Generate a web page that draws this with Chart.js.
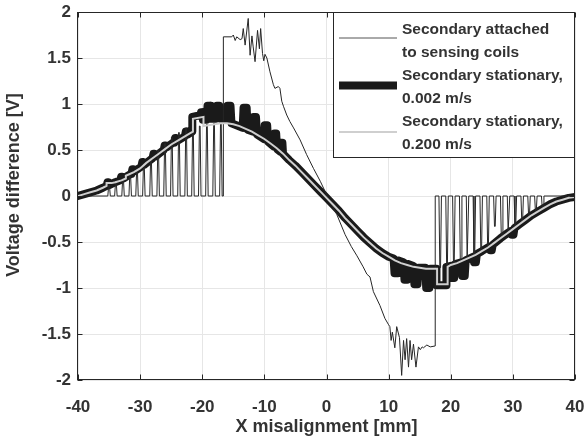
<!DOCTYPE html>
<html>
<head>
<meta charset="utf-8">
<script src="https://cdn.jsdelivr.net/npm/chart.js@4.4.1/dist/chart.umd.min.js"></script>
<style>
html,body{margin:0;padding:0;background:#fff;}
#wrap{width:587px;height:443px;}
</style>
</head>
<body>
<div id="wrap"><canvas id="chart" width="587" height="443"></canvas></div>
<script>
const FONT = "'Liberation Sans', Arial, sans-serif";
const TEXT = "#333333";

// axis ticks
const xTicks = [-40, -30, -20, -10, 0, 10, 20, 30, 40];
const xTickLabels = ["-40", "-30", "-20", "-10", "0", "10", "20", "30", "40"];
const yTicks = [-2, -1.5, -1, -0.5, 0, 0.5, 1, 1.5, 2];
const yTickLabels = ["-2", "-1.5", "-1", "-0.5", "0", "0.5", "1", "1.5", "2"];

const xTitle = "X misalignment [mm]";
const yTitle = "Voltage difference [V]";
const seriesNames = [
    ["Secondary attached", "to sensing coils"],
    ["Secondary stationary,", "0.002 m/s"],
    ["Secondary stationary,", "0.200 m/s"]
];

// thin line: pulses between 0 and the curve (left and right), noisy part in the middle
const leftPulseX = [-35.0, -33.9, -32.75, -31.6, -30.5, -29.4, -28.25, -27.1, -26.0, -24.9, -23.75, -22.6, -21.5, -20.4, -19.25, -18.1, -17.0];
const leftPulseV = [0.12, 0.15, 0.19, 0.24, 0.29, 0.35, 0.41, 0.50, 0.57, 0.64, 0.69, 0.74, 0.72, 0.76, 0.78, 0.79, 0.79];
const rightPulseX = [18.3, 19.4, 20.5, 21.6, 22.7, 23.8, 24.9, 26.0, 27.1, 28.2, 29.3, 30.4, 31.5, 32.6, 33.7, 34.8];
const rightPulseV = [-0.78, -0.77, -0.74, -0.72, -0.69, -0.65, -0.60, -0.56, -0.33, -0.45, -0.39, -0.34, -0.29, -0.23, -0.18, -0.14];

const thinMid = [
    [-16.6, 0], [-16.6, 1.73], [-15.25, 1.73], [-15.0, 1.75], [-14.7, 1.69], [-14.45, 1.73], [-13.9, 1.70],
    [-13.6, 1.71], [-13.4, 1.82], [-13.1, 1.64], [-12.6, 1.93], [-12.3, 1.53], [-12.0, 1.74], [-11.8, 1.62],
    [-11.5, 1.46], [-11.1, 1.80], [-10.8, 1.60], [-10.6, 1.82], [-10.3, 1.55], [-10.1, 1.47], [-9.9, 1.54],
    [-9.6, 1.50], [-9.1, 1.35], [-8.55, 1.21], [-8.3, 1.17], [-7.75, 1.19], [-7.5, 1.17], [-7.2, 1.03],
    [-6.9, 0.97], [-6.4, 0.88], [-5.9, 0.81], [-5.3, 0.74], [-4.25, 0.61], [-3.2, 0.45], [-2.1, 0.30],
    [-1.0, 0.16], [0.05, 0.01], [1.65, -0.20], [3.0, -0.42], [4.0, -0.55], [4.9, -0.65], [5.9, -0.77],
    [6.5, -0.85], [7.0, -0.88], [7.55, -1.04], [8.6, -1.19], [9.4, -1.33], [10.0, -1.40], [10.2, -1.42],
    [10.4, -1.57], [10.6, -1.48], [11.0, -1.65], [11.3, -1.42], [11.75, -1.54], [12.1, -1.95], [12.4, -1.57],
    [12.65, -1.78], [12.9, -1.55], [13.2, -1.86], [13.45, -1.57], [13.7, -1.78], [14.0, -1.61], [14.4, -1.86],
    [14.8, -1.64], [15.1, -1.67], [15.4, -1.64], [15.6, -1.65], [16.15, -1.62], [16.7, -1.64], [17.5, -1.63],
    [17.5, 0]
];

// thick line, 0.002 m/s (narrow bumps become round blobs with the 8px pen)
const thickPts = [
    [-40, 0.00], [-39, 0.02], [-38, 0.04], [-37, 0.06], [-36, 0.09],
    [-35.4, 0.11], [-35.25, 0.15], [-35.05, 0.15], [-34.9, 0.12], [-34, 0.15],
    [-33.2, 0.17], [-33.05, 0.21], [-32.85, 0.21], [-32.7, 0.19], [-31.5, 0.24],
    [-31.4, 0.24], [-31.25, 0.29], [-31.05, 0.29], [-30.9, 0.27], [-30, 0.31],
    [-29.8, 0.32], [-29.65, 0.37], [-29.45, 0.37], [-29.3, 0.34], [-28.2, 0.40],
    [-28.0, 0.41], [-27.85, 0.46], [-27.65, 0.46], [-27.5, 0.43], [-26.4, 0.49],
    [-26.2, 0.50], [-26.05, 0.55], [-25.85, 0.55], [-25.7, 0.53], [-24.7, 0.58],
    [-24.5, 0.58], [-24.35, 0.63], [-24.15, 0.63], [-24.0, 0.60], [-23.0, 0.64],
    [-22.8, 0.65], [-22.65, 0.70], [-22.45, 0.70], [-22.3, 0.67],
    [-21.6, 0.70], [-21.6, 0.86], [-20.3, 0.88], [-20.2, 0.91], [-20.0, 0.91], [-19.9, 0.83],
    [-19.3, 0.83], [-19.15, 0.98], [-18.75, 0.98], [-18.6, 0.84],
    [-17.8, 0.84], [-17.65, 0.98], [-17.25, 0.98], [-17.1, 0.84],
    [-16.1, 0.83], [-15.95, 0.98], [-15.45, 0.98], [-15.3, 0.79], [-14.2, 0.76],
    [-13.5, 0.74], [-13.35, 0.96], [-12.85, 0.96], [-12.7, 0.72],
    [-11.9, 0.70], [-11.75, 0.86], [-11.35, 0.86], [-11.2, 0.67],
    [-10.1, 0.62], [-9.95, 0.77], [-9.55, 0.77], [-9.4, 0.59],
    [-8.55, 0.54], [-8.4, 0.68], [-8.1, 0.68], [-7.95, 0.51],
    [-7.4, 0.48], [-7.3, 0.58], [-7.1, 0.58], [-7.0, 0.46],
    [-6, 0.39], [-5, 0.33], [-4, 0.26], [-3, 0.19], [-2, 0.12], [-1, 0.05], [0, -0.02],
    [1, -0.09], [2, -0.16], [3, -0.24], [4, -0.31], [5, -0.38], [6, -0.45], [7, -0.51], [8, -0.57], [9, -0.62], [10, -0.66],
    [10.8, -0.68], [10.95, -0.84], [11.35, -0.84], [11.5, -0.70],
    [12.4, -0.72], [12.55, -0.91], [13.0, -0.91], [13.15, -0.74],
    [14.0, -0.76], [14.15, -0.96], [14.65, -0.96], [14.8, -0.78],
    [15.9, -0.78], [16.05, -1.00], [16.55, -1.00], [16.7, -0.79],
    [17.7, -0.79], [17.7, -0.97], [19.3, -0.97], [19.3, -0.77],
    [20.0, -0.76], [20.15, -0.89], [20.55, -0.89], [20.7, -0.74],
    [21.7, -0.72], [21.85, -0.87], [22.25, -0.87], [22.4, -0.70],
    [23.6, -0.66], [23.75, -0.72], [24.05, -0.72], [24.2, -0.63], [25, -0.60],
    [26.2, -0.55], [26.35, -0.59], [26.6, -0.59], [26.75, -0.53], [28, -0.46], [29, -0.41],
    [29.7, -0.38], [29.85, -0.42], [30.1, -0.42], [30.25, -0.35], [31, -0.31], [32, -0.26], [33, -0.21],
    [34, -0.17], [35, -0.13], [36, -0.09], [37, -0.06], [38, -0.04], [39, -0.02], [40, -0.01]
];

// light grey line, 0.200 m/s
const grayPts = [
    [-40, 0.00], [-39, 0.02], [-38, 0.04], [-37, 0.06], [-36, 0.09],
    [-35.4, 0.11], [-35.4, 0.14], [-34.6, 0.14], [-34, 0.15], [-33, 0.17],
    [-32.3, 0.19], [-32.3, 0.22], [-31, 0.26], [-30, 0.30], [-29, 0.36], [-28, 0.41], [-27, 0.46],
    [-26, 0.51], [-25, 0.56], [-24, 0.60], [-23, 0.64], [-22, 0.68],
    [-21.5, 0.70], [-21.5, 0.84], [-19.8, 0.86], [-19.8, 0.76], [-19, 0.77], [-18, 0.78], [-17, 0.79],
    [-16, 0.79], [-15, 0.78], [-14, 0.76], [-13, 0.73], [-12, 0.70], [-11, 0.66], [-10, 0.62], [-9, 0.57],
    [-8, 0.52], [-7, 0.46], [-6, 0.39], [-5, 0.33], [-4, 0.26], [-3, 0.19], [-2, 0.12], [-1, 0.05], [0, -0.02],
    [1, -0.09], [2, -0.16], [3, -0.24], [4, -0.31], [5, -0.38], [6, -0.45], [7, -0.51], [8, -0.57], [9, -0.62],
    [10, -0.66], [11, -0.70], [12, -0.73], [13, -0.75], [14, -0.77], [15, -0.78], [16, -0.79], [17, -0.79],
    [17.8, -0.79], [17.8, -0.96], [19.5, -0.96], [19.5, -0.77], [20, -0.75], [21, -0.73], [22, -0.70],
    [23, -0.67], [24, -0.64], [25, -0.60], [26, -0.56], [27, -0.51], [28, -0.46], [29, -0.41], [30, -0.36],
    [31, -0.31], [32, -0.26], [33, -0.21], [34, -0.17], [35, -0.13], [36, -0.09], [37, -0.06], [38, -0.04],
    [39, -0.02], [40, -0.01]
];

function pulses(xs, vs){
    let out = [];
    xs.forEach((x, i) => {
        out.push([x - 0.2, 0], [x - 0.06, vs[i]], [x + 0.06, vs[i]], [x + 0.2, 0]);
    });
    return out;
}

const thinPts = [[-40, 0]]
    .concat(pulses(leftPulseX, leftPulseV))
    .concat(thinMid)
    .concat(pulses(rightPulseX, rightPulseV))
    .concat([[40, 0]]);

const toXY = pts => pts.map(p => ({x: p[0], y: p[1]}));

// box with inward ticks, drawn over the data; y title drawn here too
const boxPlugin = {
    id: "box",
    afterDatasetsDraw(chart){
        const {ctx, chartArea: a, scales} = chart;
        ctx.save();
        ctx.strokeStyle = "#262626";
        ctx.lineWidth = 1;
        const l = Math.round(a.left) - 0.5, r = Math.round(a.right) - 0.5;
        const t = Math.round(a.top) + 0.5, b = Math.round(a.bottom) - 0.5;
        ctx.strokeRect(l, t, r - l, b - t);
        ctx.beginPath();
        xTicks.forEach(v => {
            const px = Math.round(scales.x.getPixelForValue(v)) + 0.5;
            ctx.moveTo(px, b); ctx.lineTo(px, b - 5);
            ctx.moveTo(px, t); ctx.lineTo(px, t + 5);
        });
        yTicks.forEach(v => {
            const py = Math.round(scales.y.getPixelForValue(v)) + 0.5;
            ctx.moveTo(l, py); ctx.lineTo(l + 5, py);
            ctx.moveTo(r, py); ctx.lineTo(r - 5, py);
        });
        ctx.stroke();

        ctx.translate(14, 185);
        ctx.rotate(-Math.PI / 2);
        ctx.font = "bold 18px " + FONT;
        ctx.fillStyle = TEXT;
        ctx.textAlign = "center";
        ctx.textBaseline = "middle";
        ctx.fillText(yTitle, 0, 0);
        ctx.restore();
    }
};

// legend box in the top right corner
const legendPlugin = {
    id: "boxLegend",
    afterDraw(chart){
        const ctx = chart.ctx;
        const a = chart.chartArea;
        const bx = 333.5, by = Math.round(a.top) + 0.5, bw = Math.round(a.right) - 334, bh = 145;
        ctx.save();
        ctx.fillStyle = "#fff";
        ctx.fillRect(bx, by, bw, bh);
        ctx.strokeStyle = "#262626";
        ctx.lineWidth = 1;
        ctx.strokeRect(bx, by, bw, bh);
        ctx.font = "bold 15.5px " + FONT;
        ctx.fillStyle = TEXT;
        ctx.textBaseline = "middle";
        const rowH = 23;
        const sampleY = [38, 85.5, 132];
        const sampleCol = ["#555555", "#1a1a1a", "#cfcfcf"];
        chart.data.datasets.forEach((ds, i) => {
            const y0 = by + 17 + i * 2 * rowH;
            ctx.strokeStyle = sampleCol[i];
            ctx.lineWidth = ds.borderWidth;
            ctx.lineCap = "butt";
            ctx.beginPath();
            ctx.moveTo(339, sampleY[i]);
            ctx.lineTo(397, sampleY[i]);
            ctx.stroke();
            seriesNames[i].forEach((line, j) => {
                ctx.fillText(line, 402, y0 + j * rowH);
            });
        });
        ctx.restore();
    }
};

new Chart(document.getElementById("chart"), {
    type: "line",
    data: {
        datasets: [
            {
                label: seriesNames[0].join(" "),
                data: toXY(thinPts),
                borderColor: "#262626",
                borderWidth: 1,
                pointRadius: 0,
                tension: 0,
                borderJoinStyle: "round",
                order: 2
            },
            {
                label: seriesNames[1].join(" "),
                data: toXY(thickPts),
                borderColor: "#1a1a1a",
                borderWidth: 8,
                pointRadius: 0,
                tension: 0,
                borderJoinStyle: "round",
                borderCapStyle: "round",
                order: 3
            },
            {
                label: seriesNames[2].join(" "),
                data: toXY(grayPts),
                borderColor: "#cfcfcf",
                borderWidth: 2,
                pointRadius: 0,
                tension: 0,
                order: 1
            }
        ]
    },
    options: {
        responsive: false,
        animation: false,
        layout: {padding: {top: 12, right: 12, left: 0, bottom: 0}},
        plugins: {
            legend: {display: false},
            tooltip: {enabled: false}
        },
        scales: {
            x: {
                type: "linear",
                min: -40,
                max: 40,
                afterBuildTicks: s => { s.ticks = xTicks.map(v => ({value: v})); },
                afterFit: s => { s.height = 63; s.paddingLeft = 0; s.paddingRight = 0; },
                grid: {color: "#e6e6e6", drawTicks: false},
                border: {display: false},
                ticks: {
                    autoSkip: false,
                    maxRotation: 0,
                    padding: 17,
                    color: TEXT,
                    font: {family: FONT, size: 17, weight: "bold"},
                    callback: (v, i) => xTickLabels[i]
                },
                title: {
                    display: true,
                    text: xTitle,
                    color: TEXT,
                    font: {family: FONT, size: 18, weight: "bold"},
                    padding: {top: 0, bottom: 5}
                }
            },
            y: {
                min: -2,
                max: 2,
                afterBuildTicks: s => { s.ticks = yTicks.map(v => ({value: v})); },
                afterFit: s => { s.width = 78; s.paddingTop = 0; s.paddingBottom = 0; },
                grid: {color: "#e6e6e6", drawTicks: false},
                border: {display: false},
                ticks: {
                    autoSkip: false,
                    padding: 7,
                    color: TEXT,
                    font: {family: FONT, size: 17, weight: "bold"},
                    callback: (v, i) => yTickLabels[i]
                }
            }
        }
    },
    plugins: [boxPlugin, legendPlugin]
});
</script>
</body>
</html>
